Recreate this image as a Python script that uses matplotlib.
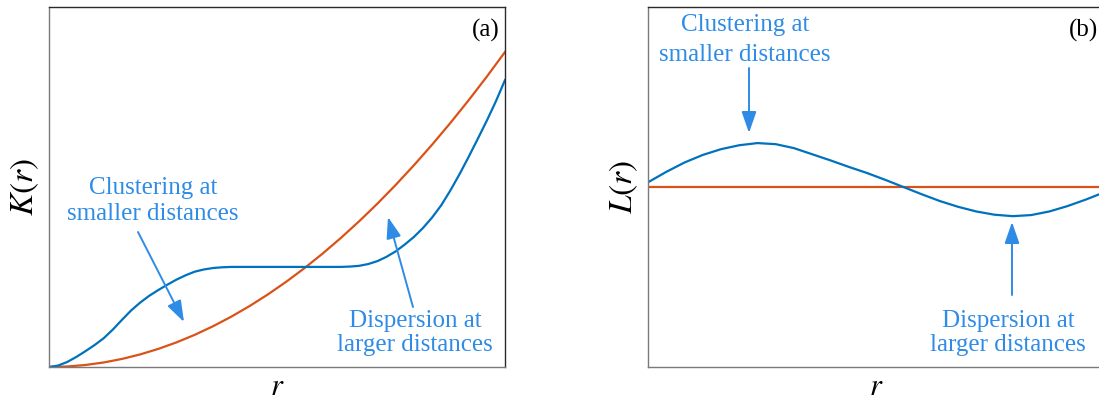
import matplotlib.pyplot as plt

plt.rcParams['font.family'] = ['Liberation Serif', 'DejaVu Serif']
plt.rcParams['mathtext.fontset'] = 'stix'

blue = '#0072BD'
orange = '#D95319'
note = '#2E8CE6'

# K(r): observed pattern (blue) and complete spatial randomness (orange)
r_k = [0, 0.02, 0.04, 0.06, 0.08, 0.10, 0.12, 0.14, 0.16, 0.18, 0.20,
       0.22, 0.24, 0.26, 0.28, 0.30, 0.32, 0.34, 0.36, 0.38, 0.40, 0.50,
       0.60, 0.64, 0.66, 0.68, 0.70, 0.72, 0.74, 0.76, 0.78, 0.80, 0.82,
       0.84, 0.86, 0.88, 0.90, 0.92, 0.94, 0.96, 0.98, 1.0]
k_obs = [0, 0.004, 0.014, 0.028, 0.044, 0.061, 0.080, 0.104, 0.131, 0.157,
         0.179, 0.198, 0.214, 0.229, 0.243, 0.255, 0.265, 0.271, 0.275,
         0.277, 0.278, 0.278, 0.278, 0.278, 0.279, 0.281, 0.286, 0.294,
         0.306, 0.321, 0.340, 0.361, 0.386, 0.415, 0.449, 0.490, 0.535,
         0.583, 0.633, 0.684, 0.738, 0.797]
r_csr = [0, 0.04, 0.08, 0.12, 0.16, 0.20, 0.24, 0.28, 0.32, 0.36, 0.40,
         0.44, 0.48, 0.52, 0.56, 0.60, 0.64, 0.68, 0.72, 0.76, 0.80, 0.84,
         0.88, 0.92, 0.96, 1.0]
k_csr = [0, 0.0014, 0.0056, 0.0126, 0.0224, 0.035, 0.0504, 0.0686, 0.0896,
         0.1134, 0.14, 0.1694, 0.2016, 0.2366, 0.2744, 0.315, 0.3584,
         0.4046, 0.4536, 0.5054, 0.56, 0.6174, 0.6776, 0.7406, 0.8064, 0.875]

# L(r): observed pattern (blue) and the zero reference (orange)
r_l = [0, 0.04, 0.08, 0.12, 0.16, 0.20, 0.24, 0.28, 0.32, 0.36, 0.40,
       0.44, 0.48, 0.52, 0.56, 0.60, 0.64, 0.68, 0.72, 0.76, 0.80, 0.84,
       0.88, 0.92, 0.96, 1.0]
l_obs = [0.013, 0.042, 0.068, 0.089, 0.105, 0.116, 0.122, 0.119, 0.108,
         0.091, 0.074, 0.056, 0.039, 0.020, 0.0, -0.020, -0.039, -0.055,
         -0.068, -0.077, -0.081, -0.078, -0.068, -0.053, -0.035, -0.015]
r_ref = [0, 1.0]
l_ref = [0, 0]

fig = plt.figure(figsize=(10.99, 4.01), dpi=100)
W, H = 1099, 401
ax1 = fig.add_axes([49 / W, 34 / H, 456 / W, 360 / H])
ax2 = fig.add_axes([648 / W, 34 / H, 456 / W, 360 / H])


def fx(px, x0):
    return (px - x0) / 456


def fy(py):
    return (367 - py) / 360


for ax in (ax1, ax2):
    ax.set_xticks([])
    ax.set_yticks([])
    ax.set_xlim(0, 1)
    for s in ('left', 'bottom'):
        ax.spines[s].set_color('#7a7a7a')
    for s in ('top', 'right'):
        ax.spines[s].set_color('#2a2a2a')
    for s in ax.spines.values():
        s.set_linewidth(1.0)
    ax.set_xlabel('$r$', fontsize=22)
    ax.xaxis.set_label_coords(0.5, -0.018)

ax1.plot(r_csr, k_csr, color=orange, lw=1.6)
ax1.plot(r_k, k_obs, color=blue, lw=1.6)
ax1.set_ylim(0, 1)
ax1.set_ylabel('$K(r)$', fontsize=24, labelpad=6)
ax1.text(fx(500, 49), fy(30), '(a)', transform=ax1.transAxes, fontsize=18,
         ha='right', va='center')

ax2.plot(r_ref, l_ref, color=orange, lw=1.6)
ax2.plot(r_l, l_obs, color=blue, lw=1.6)
ax2.set_ylim(-0.5, 0.5)
ax2.set_ylabel('$L(r)$', fontsize=24, labelpad=6)
ax2.text(fx(1098, 648), fy(30), '(b)', transform=ax2.transAxes, fontsize=18,
         ha='right', va='center')

arrow = dict(arrowstyle='-|>,head_length=1.3,head_width=0.45',
             color=note, lw=1.4, shrinkA=0, shrinkB=0)
txt = dict(fontsize=18, color=note, ha='center', va='center')


def pointer(ax, x0, tail, tip):
    ax.annotate('', xy=(fx(tip[0], x0), fy(tip[1])),
                xytext=(fx(tail[0], x0), fy(tail[1])),
                xycoords='axes fraction', textcoords='axes fraction',
                arrowprops=arrow)


ax1.text(fx(153, 49), fy(201), 'Clustering at\nsmaller distances',
         transform=ax1.transAxes, linespacing=1.2, **txt)
pointer(ax1, 49, (138, 232), (184, 322))
ax1.text(fx(415, 49), fy(333), 'Dispersion at\nlarger distances',
         transform=ax1.transAxes, linespacing=1.15, **txt)
pointer(ax1, 49, (413, 307), (388, 217))

ax2.text(fx(745, 648), fy(40), 'Clustering at\nsmaller distances',
         transform=ax2.transAxes, linespacing=1.42, **txt)
pointer(ax2, 648, (749, 68), (749, 133))
ax2.text(fx(1008, 648), fy(333), 'Dispersion at\nlarger distances',
         transform=ax2.transAxes, linespacing=1.15, **txt)
pointer(ax2, 648, (1012, 295), (1012, 222))

fig.savefig('out.png', dpi=100)
